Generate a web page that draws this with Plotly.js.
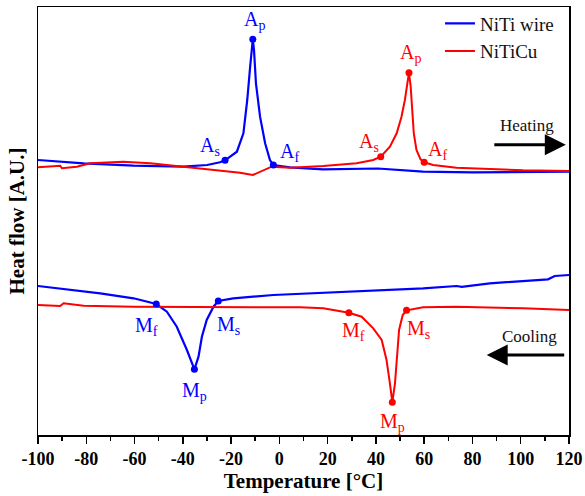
<!DOCTYPE html>
<html>
<head>
<meta charset="utf-8">
<script src="https://cdn.plot.ly/plotly-3.0.1.min.js"></script>
<style>
html,body{margin:0;padding:0;background:#fff}
#chart{width:585px;height:496px}
#chart text{font-family:'Liberation Serif' !important}
</style>
</head>
<body>
<div id="chart"></div>
<script>
// Temperature [°C] and heat flow [arbitrary units]
const nitiHeatT = [-100, -81.1, -60.4, -39.9, -29.9, -24.6, -22.5, -17.6, -14.9, -13.3, -12.1, -11.4, -11.0, -10.5, -9.7, -8.0, -5.9, -3.9, -2.5, 4.4, 18.1, 40.8, 59.5, 80.1, 120];
const nitiHeatY = [275, 271.7, 269.3, 268.3, 270, 272.7, 274.7, 283.3, 301.7, 335, 368.3, 388.3, 395.7, 385, 351.7, 318.3, 291.7, 275, 270, 267.7, 265.7, 266.5, 263.3, 262.7, 263.3];

const cuHeatT = [-100, -90.8, -90.1, -83.9, -78.4, -64.7, -53.5, -39.9, -21.8, -16.3, -11.0, -6.6, -3.2, 4.4, 18.2, 32.0, 38.9, 42.0, 45.8, 48.6, 50.6, 52.0, 53.0, 53.7, 54.4, 55.0, 55.7, 56.8, 58.5, 60.0, 63.7, 73.4, 87.2, 101.0, 120];
const cuHeatY = [267.7, 269.3, 266.7, 268.3, 271.7, 273.3, 271.7, 268.3, 264.3, 262.3, 260, 265, 268.3, 267.3, 269, 271.7, 275, 278.3, 288.3, 301.7, 318.3, 335, 351.7, 362.3, 348.3, 325, 301.7, 285, 275.7, 272.7, 270, 267.3, 265.7, 264.7, 264];

const nitiCoolT = [-100, -74.2, -60.4, -51.0, -46.6, -42.5, -38.3, -35.2, -33.5, -32.1, -30.1, -27.3, -25.3, -19.1, -2.5, 4.4, 32.0, 59.6, 73.4, 75.6, 87.2, 111.3, 114.1, 120];
const nitiCoolY = [149, 141.7, 136.7, 131, 123.3, 108.3, 85, 65.7, 78.3, 98.3, 115, 128.3, 134, 136.7, 140, 140.7, 143.3, 146.7, 149, 148.2, 151.7, 155.7, 159, 160];

const cuCoolT = [-100, -90.8, -89.4, -81.1, -60.4, 8.5, 18.2, 28.8, 34.1, 38.9, 42.4, 44.4, 45.8, 46.8, 47.9, 48.6, 49.6, 51.1, 52.7, 59.6, 73.4, 101.0, 120];
const cuCoolY = [130, 129, 131.7, 129.3, 128.3, 127.7, 126.7, 122.3, 118.3, 106.7, 95, 75, 51.7, 32.7, 51.7, 78.3, 105, 120, 124.7, 127.7, 128.3, 126.7, 125];

// characteristic points
const nitiPtsT = [-22.5, -11.0, -2.5, -51.0, -35.2, -25.3];
const nitiPtsY = [274.7, 395.7, 270, 131, 65.7, 134];
const cuPtsT = [42.0, 53.7, 60.0, 28.8, 46.8, 52.7];
const cuPtsY = [278.3, 362.3, 272.7, 122.3, 32.7, 124.7];
const ptLabels = ['A<sub>s</sub>', 'A<sub>p</sub>', 'A<sub>f</sub>', 'M<sub>f</sub>', 'M<sub>p</sub>', 'M<sub>s</sub>'];
const nitiShift = [[-15, 14], [2, 19], [16, 13], [-10, -22], [0, -22], [10, -24]];
const cuShift = [[-12, 14], [2, 19], [13, 12], [5, -19], [0, -20], [12, -19]];

const xTicks = [-100, -80, -60, -40, -20, 0, 20, 40, 60, 80, 100, 120];

const BLUE = '#0000ff', RED = '#ff0000';
const SERIF = 'Liberation Serif';

const traces = [
  {x: nitiHeatT, y: nitiHeatY, mode: 'lines', name: 'NiTi wire', legendgroup: 'a', line: {color: BLUE, width: 2.2}},
  {x: cuHeatT, y: cuHeatY, mode: 'lines', name: 'NiTiCu', legendgroup: 'b', line: {color: RED, width: 2}},
  {x: nitiCoolT, y: nitiCoolY, mode: 'lines', name: 'NiTi wire', legendgroup: 'a', showlegend: false, line: {color: BLUE, width: 2.2}},
  {x: cuCoolT, y: cuCoolY, mode: 'lines', name: 'NiTiCu', legendgroup: 'b', showlegend: false, line: {color: RED, width: 2}},
  {x: nitiPtsT, y: nitiPtsY, mode: 'markers', showlegend: false, marker: {color: BLUE, size: 7}},
  {x: cuPtsT, y: cuPtsY, mode: 'markers', showlegend: false, marker: {color: RED, size: 7}}
];

const annotations = [];
ptLabels.forEach((t, i) => {
  annotations.push({x: nitiPtsT[i], y: nitiPtsY[i], text: t, showarrow: false, xanchor: 'center', yanchor: 'middle', xshift: nitiShift[i][0], yshift: nitiShift[i][1], font: {family: SERIF, size: 20, color: BLUE}});
  annotations.push({x: cuPtsT[i], y: cuPtsY[i], text: t, showarrow: false, xanchor: 'center', yanchor: 'middle', xshift: cuShift[i][0], yshift: cuShift[i][1], font: {family: SERIF, size: 20, color: RED}});
});
annotations.push({xref: 'paper', yref: 'paper', x: 0.920, y: 0.724, xanchor: 'center', yanchor: 'middle', text: 'Heating', showarrow: false, font: {family: SERIF, size: 17, color: '#111'}});
annotations.push({xref: 'paper', yref: 'paper', x: 0.994, y: 0.678, text: '', showarrow: true, ax: -73, ay: 0, arrowhead: 2, arrowsize: 1.4, arrowwidth: 3, arrowcolor: '#000'});
annotations.push({xref: 'paper', yref: 'paper', x: 0.926, y: 0.231, xanchor: 'center', yanchor: 'middle', text: 'Cooling', showarrow: false, font: {family: SERIF, size: 17, color: '#111'}});
annotations.push({xref: 'paper', yref: 'paper', x: 0.845, y: 0.187, text: '', showarrow: true, ax: 79, ay: 0, arrowhead: 2, arrowsize: 1.4, arrowwidth: 3, arrowcolor: '#000'});

const layout = {
  width: 585, height: 496,
  margin: {l: 38, r: 16, t: 7, b: 61, autoexpand: false},
  paper_bgcolor: '#fff', plot_bgcolor: '#fff',
  showlegend: true,
  legend: {x: 0.757, y: 1.006, xanchor: 'left', yanchor: 'top', bgcolor: 'rgba(0,0,0,0)', font: {family: SERIF, size: 19, color: '#111'}, tracegroupgap: 0},
  xaxis: {
    range: [-100, 120], tickvals: xTicks, ticktext: xTicks.map(String),
    ticks: 'outside', ticklen: 7, tickwidth: 1.5, tickcolor: '#000',
    minor: {dtick: 10, tick0: 0, ticks: 'outside', ticklen: 4, tickwidth: 1.5, tickcolor: '#000'},
    showline: true, linecolor: '#000', linewidth: 1.5, mirror: true,
    showgrid: false, zeroline: false,
    tickfont: {family: SERIF, size: 18, color: '#000', weight: 'bold'},
    title: {text: '<b>Temperature [°C]</b>', font: {family: SERIF, size: 21, color: '#000'}, standoff: 4}
  },
  yaxis: {
    range: [0, 428], showticklabels: false, ticks: '',
    showline: true, linecolor: '#000', linewidth: 1.5, mirror: true,
    showgrid: false, zeroline: false,
    title: {text: '<b>Heat flow [A.U.]</b>', font: {family: SERIF, size: 21, color: '#000'}, standoff: 6}
  },
  annotations: annotations
};

Plotly.newPlot('chart', traces, layout, {displayModeBar: false, staticPlot: true});
</script>
</body>
</html>
